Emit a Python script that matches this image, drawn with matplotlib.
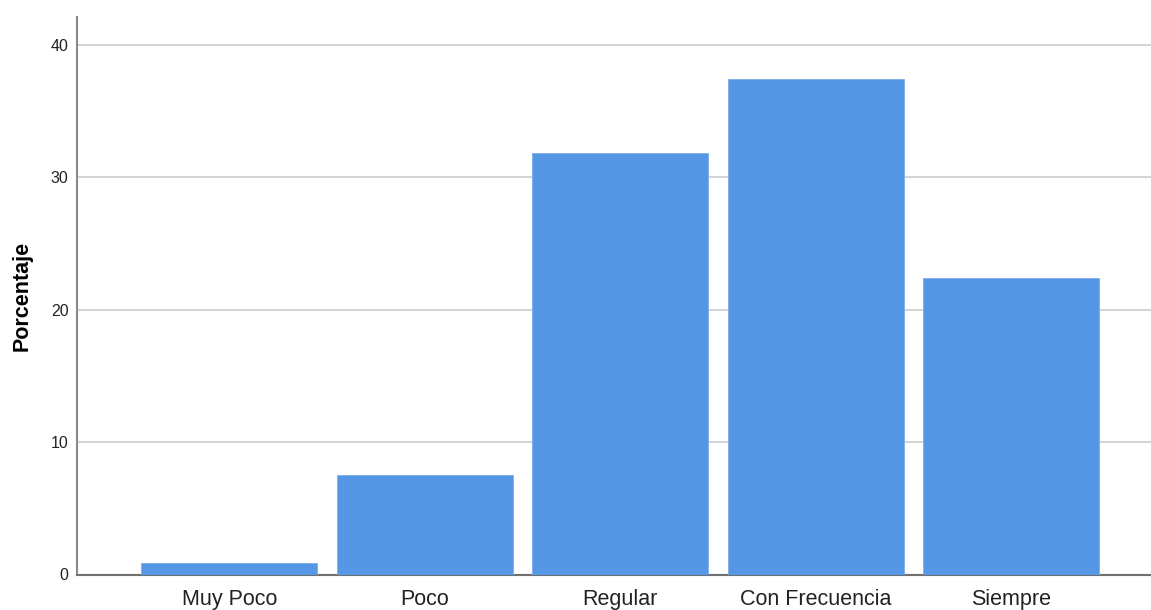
import matplotlib
matplotlib.use("Agg")
import matplotlib.pyplot as plt
import numpy as np

# categories and percentages
categorias = ['Muy Poco', 'Poco', 'Regular', 'Con Frecuencia', 'Siempre']
porcentaje = [0.9, 7.5, 31.8, 37.4, 22.4]
yticks = [0, 10, 20, 30, 40]

plt.rcParams['font.family'] = ['Liberation Sans', 'DejaVu Sans']

fig = plt.figure(figsize=(11.51, 6.10), dpi=100)
ax = fig.add_axes([77 / 1151, 35.5 / 610, 1 - 77 / 1151, (574.5 - 17) / 610])

x = np.arange(len(categorias))
ax.bar(x, porcentaje, width=0.9, color='#5596e5', edgecolor='#7aaeee',
       linewidth=0.6, zorder=3)

ax.set_xlim(-0.779, 4.715)
ax.set_ylim(0, 42.08)
ax.set_yticks(yticks)
ax.set_xticks(x)
ax.set_xticklabels(categorias, fontsize=15.5, color='#222222')
ax.tick_params(axis='y', length=0, pad=6, labelsize=11.5, labelcolor='#222222')
ax.tick_params(axis='x', length=0, pad=10.5)

# light horizontal gridlines behind the bars
ax.yaxis.grid(True, color='#d4d4d4', linewidth=1.5, zorder=0)
ax.set_axisbelow(True)

ax.spines['top'].set_visible(False)
ax.spines['right'].set_visible(False)
ax.spines['left'].set_color('#8a8a8a')
ax.spines['bottom'].set_color('#707070')
ax.spines['left'].set_linewidth(1.5)
ax.spines['bottom'].set_linewidth(1.5)

ax.set_ylabel('Porcentaje', fontsize=15.5, fontweight='bold', labelpad=13)

fig.savefig('out.png', dpi=100)
